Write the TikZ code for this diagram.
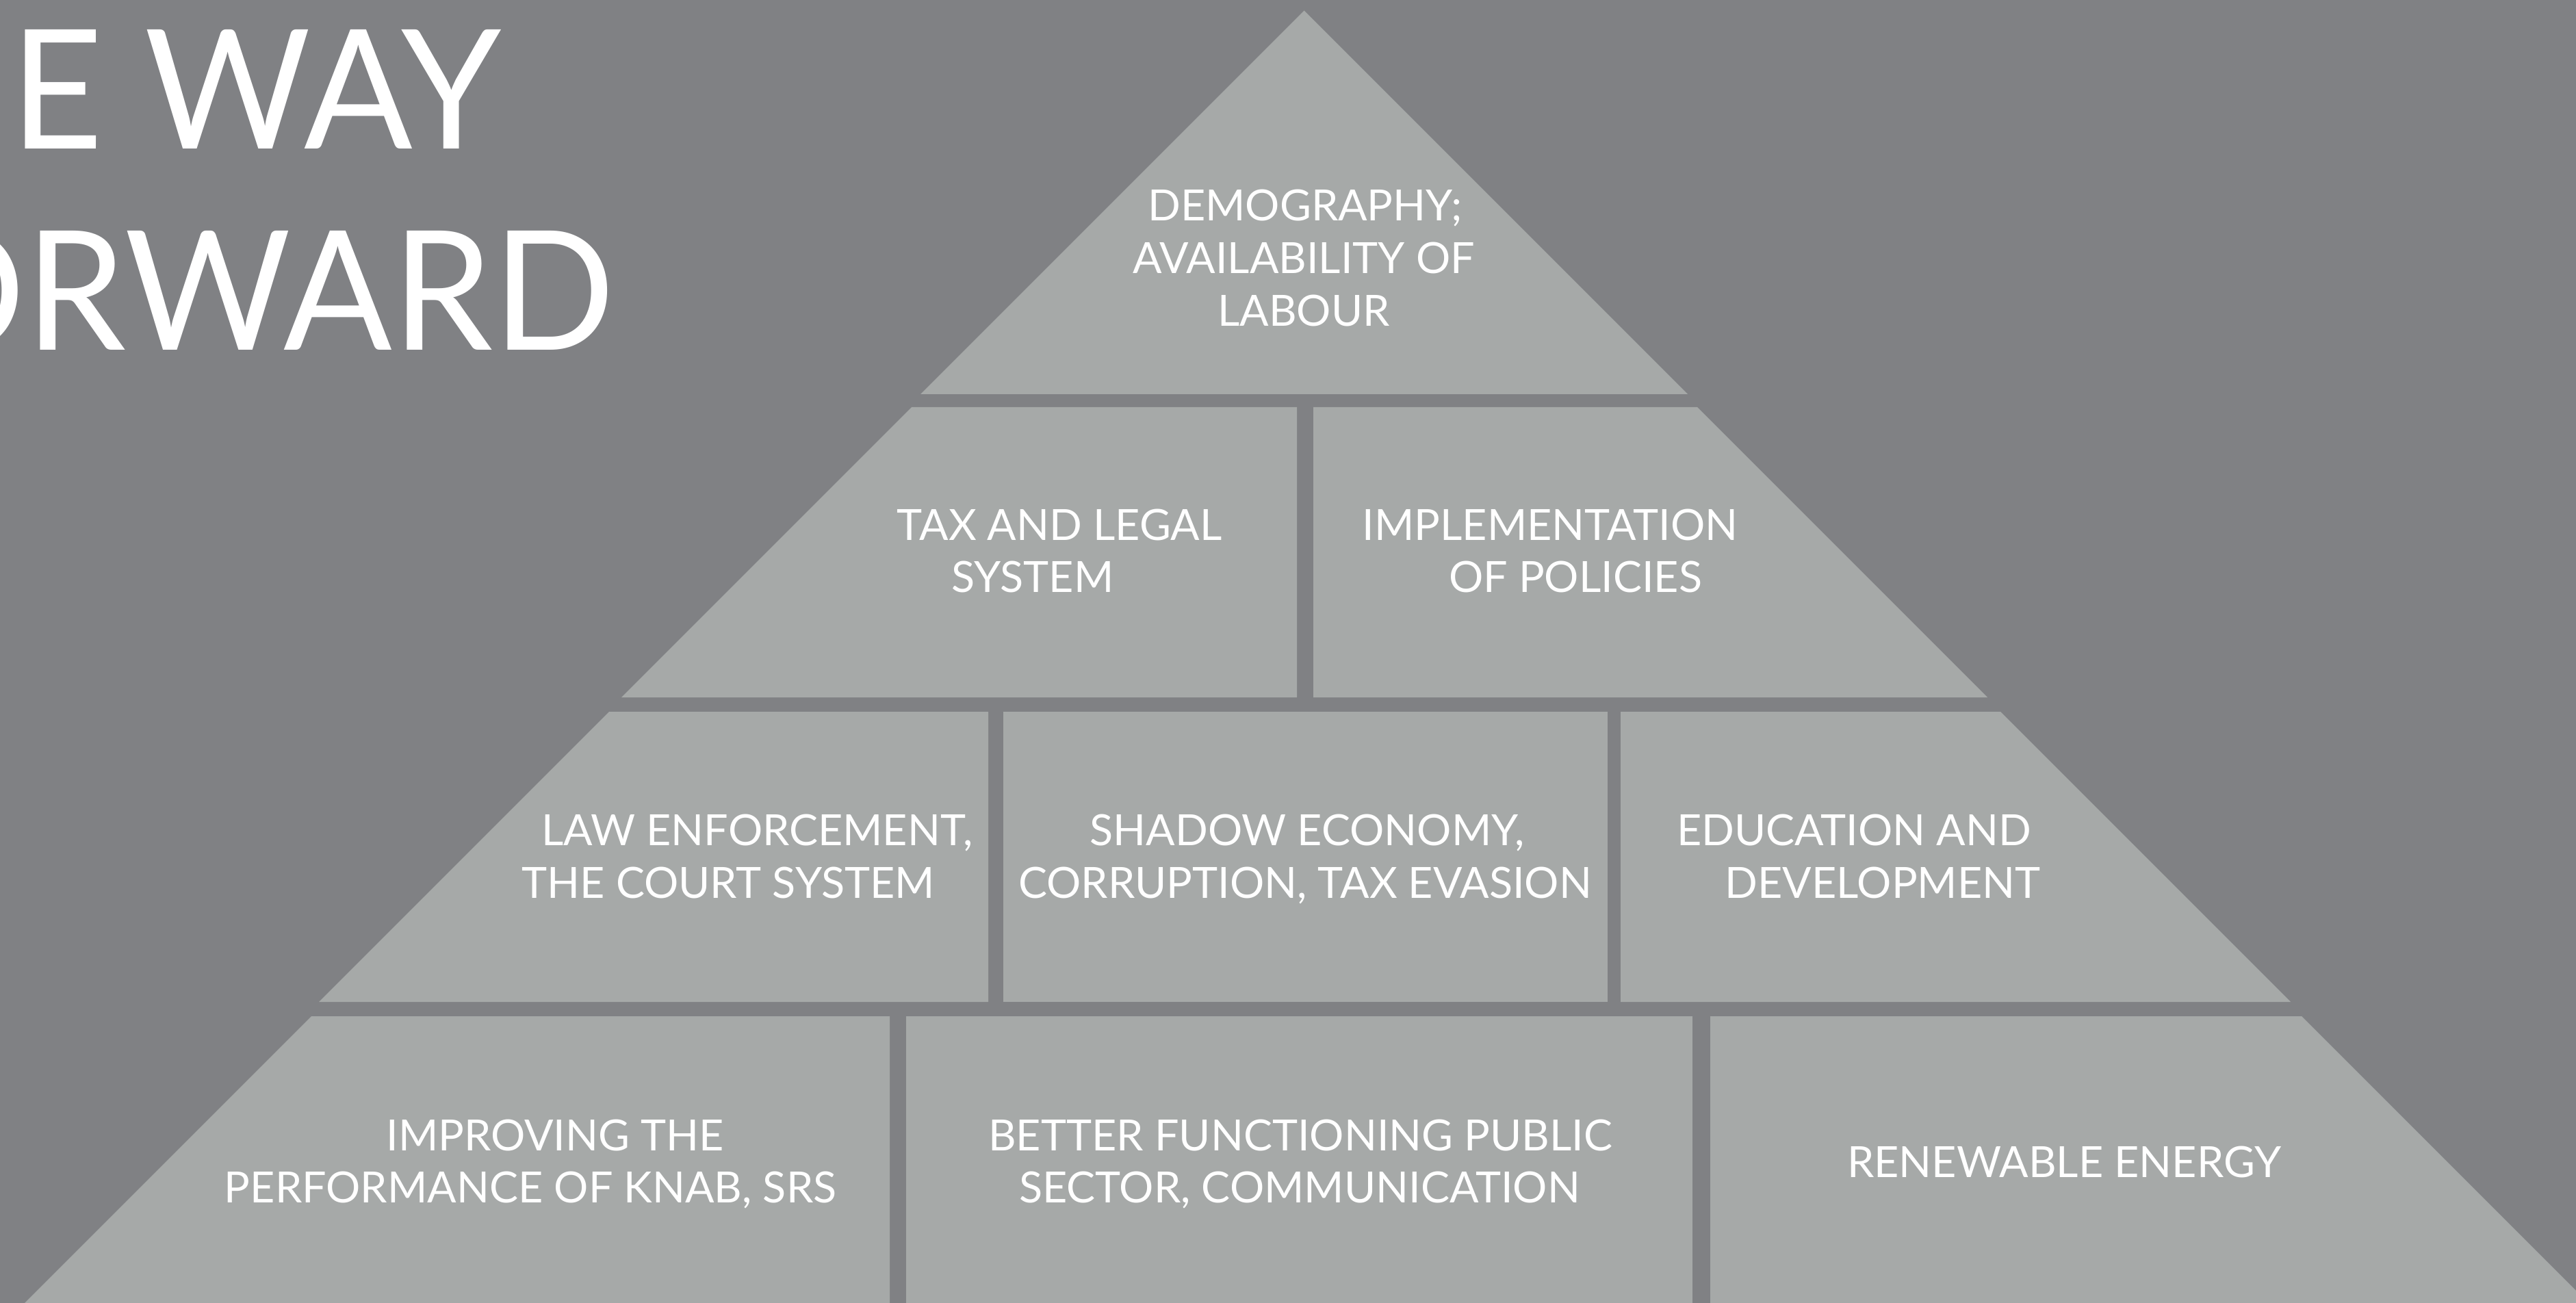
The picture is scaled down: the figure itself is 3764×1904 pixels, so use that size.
\documentclass[tikz,border=0pt]{standalone}
\usepackage{fontspec}
\newfontfamily\gillfont{Lato}
\newfontfamily\titlefont[FakeStretch=0.965]{Lato}
\definecolor{bgc}{RGB}{128,129,132}
\definecolor{brickc}{RGB}{166,169,168}
\begin{document}
\begin{tikzpicture}[x=0.01cm,y=-0.01cm,
  brick/.style={fill=brickc,draw=none},
  lbl/.style={anchor=base,inner sep=0pt,text=white,font=\gillfont\fontsize{17.87}{21.8}\selectfont},
  titletext/.style={anchor=base east,inner sep=0pt,text=white,font=\titlefont\fontsize{69.1}{80}\selectfont}]
\useasboundingbox (0,0) rectangle (3764,1904);
\clip (0,0) rectangle (3764,1904);
\fill[bgc] (0,0) rectangle (3764,1904);
% row 1
\fill[brick] (1905.5,15.5) -- (1345,576) -- (2466,576) -- cycle;
% row 2
\fill[brick] (1332,595) -- (1895,595) -- (1895,1019) -- (908,1019) -- cycle;
\fill[brick] (1919,595) -- (2480,595) -- (2904,1019) -- (1919,1019) -- cycle;
% row 3
\fill[brick] (890,1040) -- (1444,1040) -- (1444,1464) -- (466,1464) -- cycle;
\fill[brick] (1466,1040) rectangle (2349,1464);
\fill[brick] (2368,1040) -- (2923,1040) -- (3347,1464) -- (2368,1464) -- cycle;
% row 4
\fill[brick] (455,1485) -- (1300,1485) -- (1300,1904) -- (36,1904) -- cycle;
\fill[brick] (1324,1485) rectangle (2473,1904);
\fill[brick] (2499,1485) -- (3363,1485) -- (3782,1904) -- (2499,1904) -- cycle;
% title (cut off at the left edge, as in the reference)
\node[titletext] (ttl1) at (733,218) {THE WAY};
\node[titletext] (ttl2) at (899,512) {FORWARD};
% labels
\node[lbl] (a1) at (1907,323) {DEMOGRAPHY;};
\node[lbl] (a2) at (1905,400) {AVAILABILITY OF};
\node[lbl] (a3) at (1905,477) {LABOUR};
\node[lbl] (b1) at (1548,790) {TAX AND LEGAL};
\node[lbl] (b2) at (1509,866) {SYSTEM};
\node[lbl] (c1) at (2265,790) {IMPLEMENTATION};
\node[lbl] (c2) at (2302,866) {OF POLICIES};
\node[lbl] (d1) at (1106,1235) {LAW ENFORCEMENT,};
\node[lbl] (d2) at (1064,1312) {THE COURT SYSTEM};
\node[lbl] (e1) at (1910,1235) {SHADOW ECONOMY,};
\node[lbl] (e2) at (1907,1312) {CORRUPTION, TAX EVASION};
\node[lbl] (f1) at (2709,1235) {EDUCATION AND};
\node[lbl] (f2) at (2751,1312) {DEVELOPMENT};
\node[lbl] (g1) at (811,1681) {IMPROVING THE};
\node[lbl] (g2) at (775,1757) {PERFORMANCE OF KNAB, SRS};
\node[lbl] (h1) at (1900,1681) {BETTER FUNCTIONING PUBLIC};
\node[lbl] (h2) at (1899,1757) {SECTOR, COMMUNICATION};
\node[lbl] (i1) at (3016,1720) {RENEWABLE ENERGY};
\end{tikzpicture}
\end{document}
